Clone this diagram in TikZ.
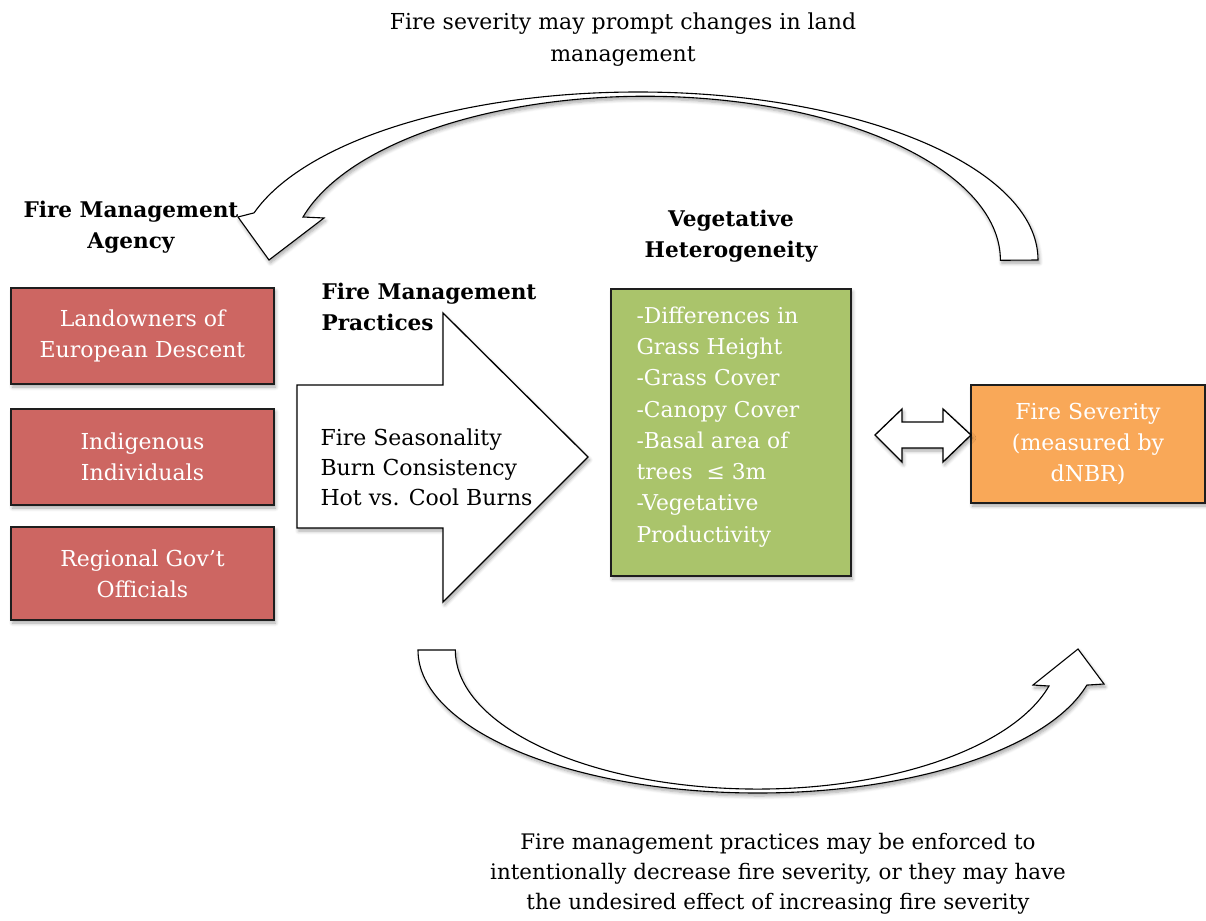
\documentclass[tikz,border=0pt]{standalone}
\usepackage{fontspec}
\setmainfont{DejaVu Serif}
\usetikzlibrary{shadows.blur}
\definecolor{redbox}{RGB}{205,102,98}
\definecolor{greenbox}{RGB}{170,196,107}
\definecolor{orangebox}{RGB}{249,168,88}
\definecolor{boxline}{RGB}{30,30,30}
\begin{document}
\begin{tikzpicture}[x=1pt,y=-1pt,
  shad/.style={blur shadow={shadow xshift=1.5pt,shadow yshift=-3pt,shadow blur steps=6,shadow blur radius=3.5pt,shadow opacity=35}},
  box/.style={draw=boxline,line width=1.6pt,inner sep=0pt,shad},
  wtext/.style={text=white,font=\fontsize{22}{31}\selectfont,align=center},
  btext/.style={font=\bfseries\fontsize{21.6}{31}\selectfont},
  ntext/.style={font=\fontsize{22}{30}\selectfont},
  outline/.style={draw=black,line width=1.1pt,fill=white,line join=miter,shad}
]
\useasboundingbox (0,0) rectangle (1206,920);

% top caption
\node[ntext,align=center,font=\fontsize{22}{32}\selectfont] (topcap) at (623,40) {Fire severity may prompt changes in land\\management};

% top curved arrow
\draw[outline] (1038,260) arc[start angle=0,end angle=-163.7,x radius=400,y radius=168]
  -- (238,217) -- (269,260) -- (324,218) -- (303,217)
  arc[start angle=-164.7,end angle=0,x radius=355,y radius=164] -- cycle;

% bottom curved arrow
\draw[outline] (418,650) arc[start angle=180,end angle=14.2,x radius=339.6,y radius=143]
  -- (1104,684) -- (1078,649) -- (1033,685) -- (1049,686)
  arc[start angle=15,end angle=180,x radius=302,y radius=139] -- cycle;

% labels
\node[btext,align=center] (agency) at (131,227) {Fire Management\\Agency};
\node[btext,align=left,anchor=north west] (practices) at (318,280) {Fire Management\\Practices};
\node[btext,align=center] (veghet) at (731,236) {Vegetative\\Heterogeneity};

% red boxes
\node[box,fill=redbox,minimum width=263pt,minimum height=96pt,wtext] (land) at (142.5,336) {Landowners of\\European Descent};
\node[box,fill=redbox,minimum width=263pt,minimum height=96pt,wtext] (indig) at (142.5,457) {Indigenous\\Individuals};
\node[box,fill=redbox,minimum width=263pt,minimum height=93pt,wtext] (gov) at (142.5,573.5) {Regional Gov’t\\Officials};

% block arrow
\draw[outline,line width=1.3pt] (297,385) -- (443,385) -- (443,313) -- (588,457) -- (443,602) -- (443,528) -- (297,528) -- cycle;
\node[ntext,align=left,anchor=west] (fmp) at (317,467) {Fire Seasonality\\Burn Consistency\\Hot vs. Cool Burns};

% green box
\node[box,fill=greenbox,minimum width=240pt,minimum height=287pt] (green) at (731,432.5) {};
\node[wtext,align=left,anchor=north west,font=\fontsize{21.8}{31.3}\selectfont] (greentext) at (633,303)
 {-Differences in\\Grass Height\\-Grass Cover\\-Canopy Cover\\-Basal area of\\trees\ \ ≤ 3m\\-Vegetative\\Productivity};

% orange box
\node[box,fill=orangebox,minimum width=234pt,minimum height=118pt,wtext] (sev) at (1088,444) {Fire Severity\\(measured by\\dNBR)};

% double arrow
\coordinate (dl) at (875,435);
\coordinate (dr) at (971,435);
\draw[outline,line width=1.3pt] (dl) -- (902,409) -- (902,422) -- (943,422) -- (943,409) -- (dr) -- (943,462) -- (943,448) -- (902,448) -- (902,462) -- cycle;

% bottom caption
\node[ntext,align=center,font=\fontsize{21.4}{30}\selectfont] (botcap) at (778,874) {Fire management practices may be enforced to\\intentionally decrease fire severity, or they may have\\the undesired effect of increasing fire severity};
\end{tikzpicture}
\end{document}
